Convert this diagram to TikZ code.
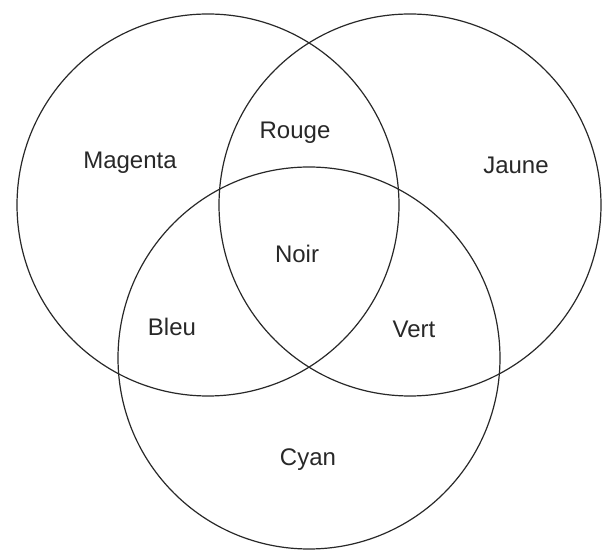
\documentclass[tikz,border=0pt]{standalone}
\usepackage{fontspec}
\setmainfont{Liberation Sans}
\usepackage{tikz}
\definecolor{inkgray}{RGB}{40,40,40}

\begin{document}
\begin{tikzpicture}[
  x=1pt, y=1pt,
  ring/.style={draw=inkgray, line width=1.2pt},
  lbl/.style={inner sep=0pt, text=inkgray, font=\fontsize{24}{28}\selectfont}
]
\useasboundingbox (0,0) rectangle (605,549);

\coordinate (cM) at (208, 344);
\coordinate (cJ) at (410, 344);
\coordinate (cC) at (309, 191);

\draw[ring] (cM) circle[radius=191];
\draw[ring] (cJ) circle[radius=191];
\draw[ring] (cC) circle[radius=191];

\node[lbl] (magenta) at (130, 386) {Magenta};
\node[lbl] (jaune)   at (516, 384) {Jaune};
\node[lbl] (rouge)   at (295, 416) {Rouge};
\node[lbl] (noir)    at (297, 295) {Noir};
\node[lbl] (bleu)    at (172, 222) {Bleu};
\node[lbl] (vert)    at (414, 220) {Vert};
\node[lbl] (cyan)    at (308, 89)  {Cyan};

\end{tikzpicture}
\end{document}
